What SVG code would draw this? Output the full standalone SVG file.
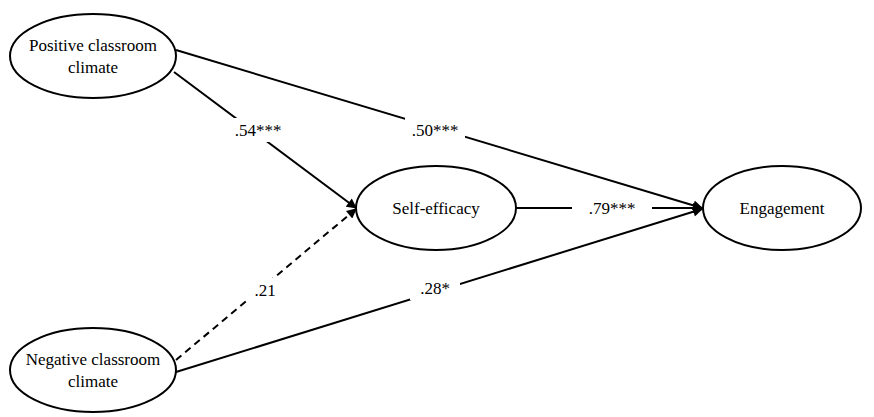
<svg xmlns="http://www.w3.org/2000/svg" width="874" height="417" viewBox="0 0 874 417">
<style>
ellipse{fill:#fff;stroke:#000;stroke-width:2}
text{font-family:'Liberation Serif','Times New Roman','DejaVu Serif',serif;font-size:17px;text-anchor:middle;fill:#000}
.c line{stroke:#000;stroke-width:2}
.lb{fill:#fff}
</style>
<defs><marker id="a" viewBox="0 0 10 10" refX="9" refY="5" markerWidth="11" markerHeight="10" orient="auto" markerUnits="userSpaceOnUse"><path d="M0,0L10,5L0,10z" fill="#000"/></marker></defs>
<rect width="874" height="417" fill="#fff"/>
<g class="c">
<line x1="174" y1="72" x2="356" y2="208" marker-end="url(#a)"/>
<line x1="176" y1="50" x2="702" y2="208" marker-end="url(#a)"/>
<line x1="516" y1="208" x2="702" y2="208" marker-end="url(#a)"/>
<line x1="176" y1="360" x2="356" y2="209" stroke-dasharray="7,5" marker-end="url(#a)"/>
<line x1="176" y1="372" x2="702" y2="209" marker-end="url(#a)"/>
<rect class="lb" x="230" y="118" width="58" height="24"/>
<rect class="lb" x="405" y="118" width="60" height="24"/>
<rect class="lb" x="572" y="197" width="80" height="22"/>
<rect class="lb" x="248" y="278" width="34" height="24"/>
<rect class="lb" x="410" y="276" width="50" height="24"/>
<text x="258" y="136">.54***</text>
<text x="435" y="136">.50***</text>
<text x="612" y="214">.79***</text>
<text x="265" y="296">.21</text>
<text x="435" y="294">.28*</text>
</g>
<g id="pos"><ellipse cx="93" cy="56" rx="83" ry="42"/><text x="93" y="51">Positive classroom</text><text x="93" y="73">climate</text></g>
<g id="neg"><ellipse cx="93" cy="370" rx="83" ry="42"/><text x="93" y="365">Negative classroom</text><text x="93" y="387">climate</text></g>
<g id="se"><ellipse cx="436" cy="208" rx="80" ry="42"/><text x="436" y="214">Self-efficacy</text></g>
<g id="eng"><ellipse cx="782" cy="208" rx="79" ry="42"/><text x="782" y="214">Engagement</text></g>
</svg>
